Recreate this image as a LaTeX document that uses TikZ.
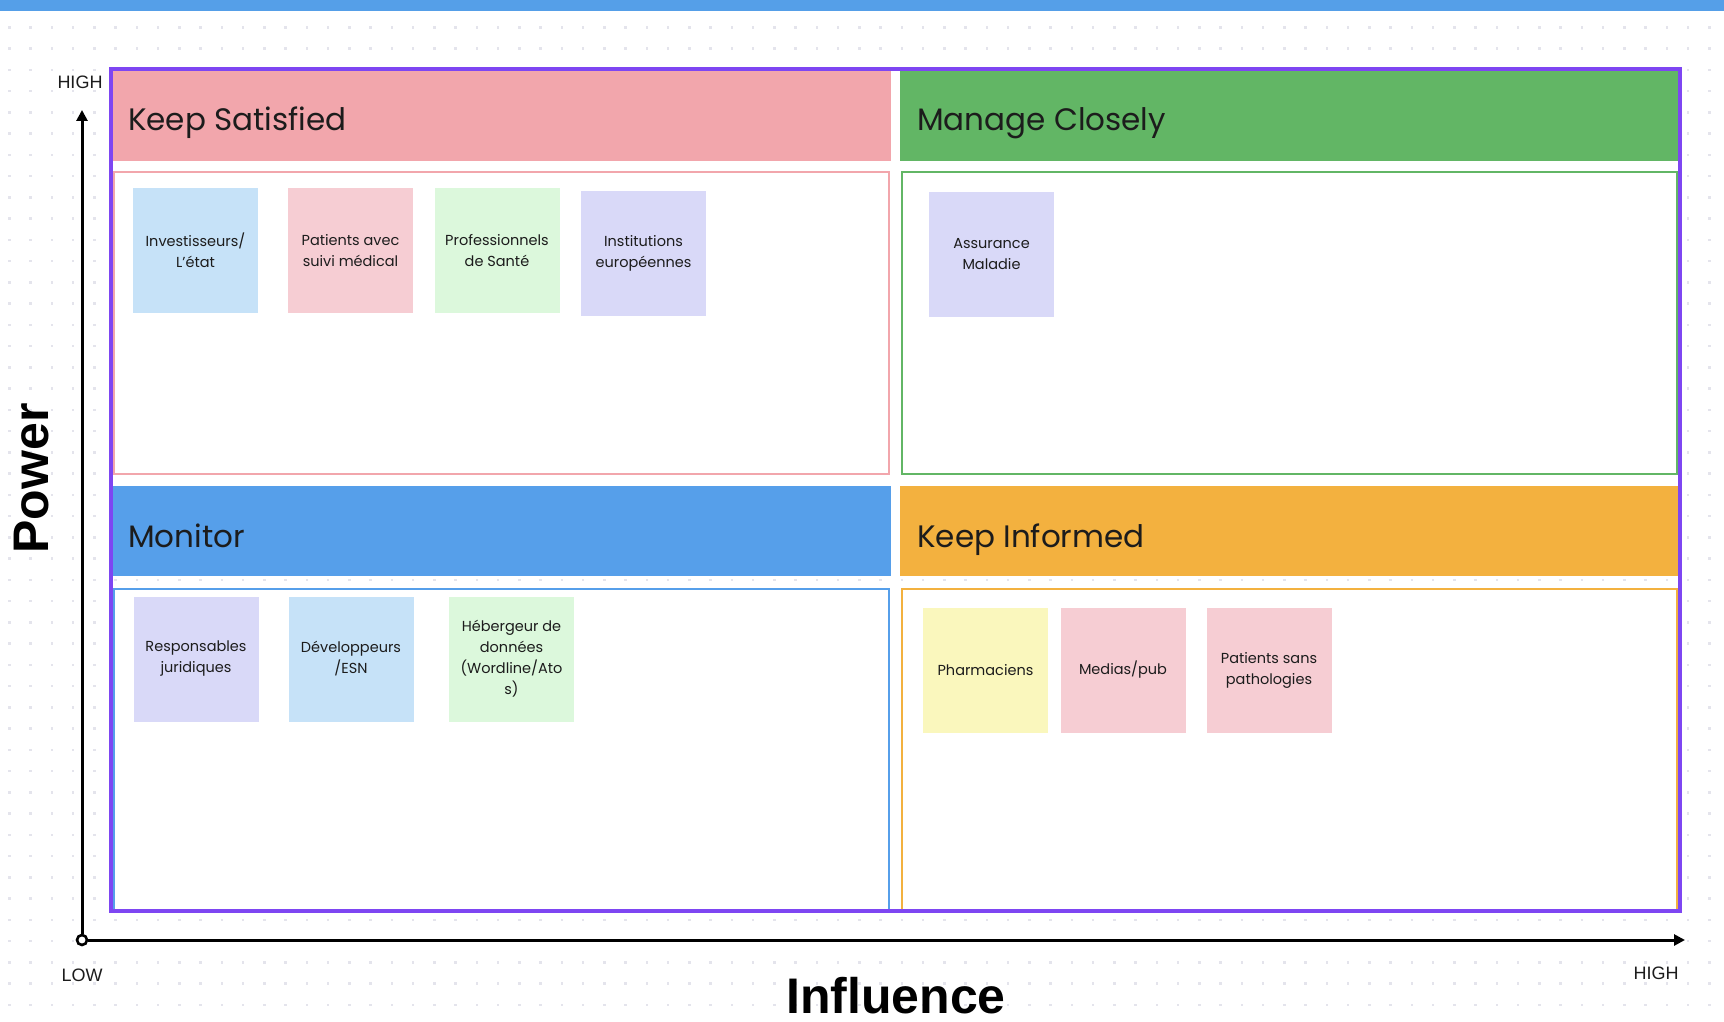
\documentclass[tikz,border=0pt]{standalone}
\usepackage{fontspec}
\setmainfont{Poppins}
\newfontfamily\axisfont{Liberation Sans}
\usetikzlibrary{arrows.meta}

\definecolor{barblue}{HTML}{559FE8}
\definecolor{dotgrey}{HTML}{E4E4EC}
\definecolor{framepurple}{HTML}{7E46F2}
\definecolor{kspink}{HTML}{F2A6AC}
\definecolor{mcgreen}{HTML}{62B665}
\definecolor{monblue}{HTML}{569FEA}
\definecolor{kiorange}{HTML}{F3B13F}
\definecolor{noteblue}{HTML}{C6E2F8}
\definecolor{notepink}{HTML}{F6CDD3}
\definecolor{notegreen}{HTML}{DCF8DC}
\definecolor{notelav}{HTML}{D9D9F8}
\definecolor{noteyellow}{HTML}{FAF7BD}
\definecolor{inkdark}{HTML}{1C1C1C}

\tikzset{
  header/.style={minimum width=778pt, minimum height=90pt, inner sep=0pt, anchor=north west},
  title/.style={anchor=base west, inner sep=0pt, text=inkdark, font=\fontsize{31}{31}\selectfont},
  content/.style={draw=#1, line width=2.5pt, fill=white, minimum width=775pt, inner sep=0pt},
  note/.style={fill=#1, minimum width=125pt, minimum height=125pt, inner sep=0pt, align=center,
    text=inkdark, font=\fontsize{14.5}{21}\selectfont},
  axisline/.style={line width=3pt, black},
  tip/.style={-{Triangle[length=11pt, width=11pt]}},
  axislabel/.style={inner sep=0pt, text=inkdark, font=\axisfont\fontsize{18}{18}\selectfont},
  axistitle/.style={inner sep=0pt, text=black, font=\axisfont\bfseries\fontsize{50}{50}\selectfont}
}

\begin{document}
\begin{tikzpicture}[x=1pt, y=-1pt]
\useasboundingbox (0,0) rectangle (1724,1022);
\fill[white] (0,0) rectangle (1724,1022);

% dotted canvas
\foreach \i in {0,...,80}
  \foreach \j in {0,...,46}
    \fill[dotgrey] ({8.1+21.25*\i},{26.1+21.25*\j}) rectangle ++(2.6,2.6);

% top strip
\fill[barblue] (0,0) rectangle (1724,11);

% quadrant bodies
\node[content=kspink,  minimum height=302pt] (ksbox) at (501.5,323) {};
\node[content=mcgreen, minimum height=302pt] (mcbox) at (1289.5,323) {};
\node[content=monblue, minimum height=322pt] (monbox) at (501.5,750) {};
\node[content=kiorange,minimum height=322pt] (kibox) at (1289.5,750) {};

% quadrant headers
\node[header, fill=kspink]   (ksh)  at (113,71) {};
\node[header, fill=mcgreen]  (mch)  at (900,71) {};
\node[header, fill=monblue]  (monh) at (113,486) {};
\node[header, fill=kiorange] (kih)  at (900,486) {};

\node[title] (kst)  at (128,131) {Keep Satisfied};
\node[title] (mct)  at (917,131) {Manage Closely};
\node[title] (mont) at (128,547) {Monitor};
\node[title] (kit)  at (917,547) {Keep Informed};

% outer frame
\node[draw=framepurple, line width=4pt, minimum width=1569pt, minimum height=842pt, inner sep=0pt] (frame) at (895.5,490) {};

% stakeholders
\node[note=noteblue]  (inv)  at (195.5,250.5) {Investisseurs/\\L'état};
\node[note=notepink]  (pat)  at (350.5,250.5) {Patients avec\\suivi médical};
\node[note=notegreen] (pro)  at (497,250.5)   {Professionnels\\de Santé};
\node[note=notelav]   (inst) at (643.5,253)   {Institutions\\européennes};
\node[note=notelav]   (am)   at (991.5,254)   {Assurance\\Maladie};

\node[note=notelav]   (resp) at (196,659)     {Responsables\\juridiques};
\node[note=noteblue]  (dev)  at (351,659)     {Développeurs\\/ESN};
\node[note=notegreen] (heb)  at (511.5,659)   {Hébergeur de\\données\\(Wordline/Ato\\s)};

\node[note=noteyellow] (pha) at (985.5,670)   {Pharmaciens};
\node[note=notepink]   (med) at (1123,670)    {Medias/pub};
\node[note=notepink]   (pss) at (1269,670)    {Patients sans\\pathologies};

% axes
\coordinate (ytip) at (82,110);
\coordinate (xtip) at (1685,940);
\node[circle, draw=black, fill=white, line width=2.6pt, minimum size=10pt, inner sep=0pt] (origin) at (82,940) {};
\draw[axisline, tip] (origin) -- (ytip);
\draw[axisline, tip] (origin) -- (xtip);

\node[axislabel] (yhigh) at (80,82)   {HIGH};
\node[axislabel] (xlow)  at (82,975)  {LOW};
\node[axislabel] (xhigh) at (1656,973) {HIGH};

\node[axistitle, rotate=90] (power) at (31.5,478.5) {Power};
\node[axistitle, anchor=base] (infl) at (896,1013) {Influence};
\end{tikzpicture}
\end{document}
